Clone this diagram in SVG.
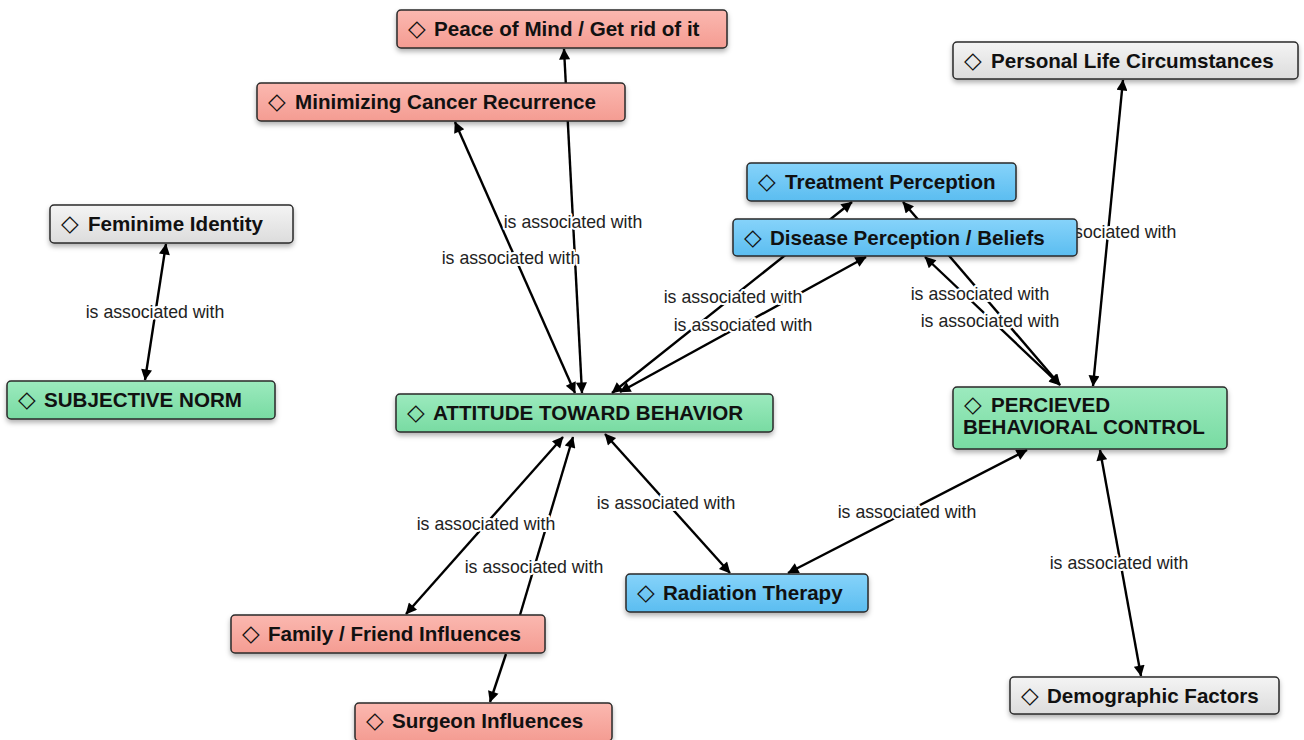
<svg xmlns="http://www.w3.org/2000/svg" width="1304" height="740" viewBox="0 0 1304 740">
<defs>
<linearGradient id="gRed" x1="0" y1="0" x2="0" y2="1"><stop offset="0" stop-color="#fbb8b0"/><stop offset="1" stop-color="#f49c92"/></linearGradient>
<linearGradient id="gBlue" x1="0" y1="0" x2="0" y2="1"><stop offset="0" stop-color="#86d3fa"/><stop offset="1" stop-color="#5bbdf0"/></linearGradient>
<linearGradient id="gGreen" x1="0" y1="0" x2="0" y2="1"><stop offset="0" stop-color="#9ceabe"/><stop offset="1" stop-color="#78dba2"/></linearGradient>
<linearGradient id="gGray" x1="0" y1="0" x2="0" y2="1"><stop offset="0" stop-color="#f4f4f4"/><stop offset="1" stop-color="#dcdcdc"/></linearGradient>
<filter id="sh" x="-10%" y="-30%" width="120%" height="170%"><feDropShadow dx="0" dy="3" stdDeviation="2.5" flood-color="#000" flood-opacity="0.3"/></filter>
<marker id="ah" viewBox="0 0 10 10" refX="9.5" refY="5" markerWidth="15" markerHeight="11" markerUnits="userSpaceOnUse" orient="auto-start-reverse"><path d="M0,0 L10,5 L0,10 z" fill="#000"/></marker>
</defs>
<style>
.c line{stroke:#000;stroke-width:2.4}
.both{marker-start:url(#ah);marker-end:url(#ah)}
.end{marker-end:url(#ah)}
.lbl{font-family:"Liberation Sans",Arial,sans-serif;font-size:17.7px;fill:#222;text-anchor:middle;stroke:#fff;stroke-width:4px;paint-order:stroke;stroke-linejoin:round}
.n rect{stroke:#2a2a2a;stroke-width:1.5;filter:url(#sh)}
.n text{font-family:"Liberation Sans",Arial,"DejaVu Sans",sans-serif;font-size:20.6px;font-weight:bold;fill:#111}
.red rect{fill:url(#gRed)}
.blue rect{fill:url(#gBlue)}
.green rect{fill:url(#gGreen)}
.gray rect{fill:url(#gGray)}
.d{font-family:"DejaVu Sans",sans-serif;font-weight:normal;font-size:23px}
</style>
<rect width="1304" height="740" fill="#fff"/>
<g id="connectors" class="c">
<line class="both" x1="582" y1="393" x2="564" y2="49"/>
<line class="both" x1="575" y1="393" x2="455" y2="122"/>
<line class="both" x1="166" y1="244" x2="145" y2="380"/>
<line class="both" x1="1093" y1="386" x2="1123" y2="80"/>
<line class="both" x1="1100" y1="450" x2="1141" y2="676"/>
<line class="both" x1="788" y1="573" x2="1027" y2="450"/>
<line class="both" x1="605" y1="434" x2="730" y2="573"/>
<line class="both" x1="406" y1="614" x2="563" y2="437"/>
<line class="end" x1="520" y1="615" x2="573" y2="437"/>
<line class="end" x1="506" y1="654" x2="490" y2="702"/>
<line class="both" x1="612" y1="393" x2="852" y2="202"/>
<line class="both" x1="620" y1="392" x2="866" y2="257"/>
<line class="both" x1="1060" y1="385" x2="925" y2="257"/>
<line class="both" x1="1060" y1="385" x2="903" y2="202"/>
<text class="lbl" x="573" y="228">is associated with</text>
<text class="lbl" x="511" y="264">is associated with</text>
<text class="lbl" x="155" y="318">is associated with</text>
<text class="lbl" x="1107" y="238">is associated with</text>
<text class="lbl" x="733" y="303">is associated with</text>
<text class="lbl" x="743" y="331">is associated with</text>
<text class="lbl" x="980" y="300">is associated with</text>
<text class="lbl" x="990" y="327">is associated with</text>
<text class="lbl" x="666" y="509">is associated with</text>
<text class="lbl" x="907" y="518">is associated with</text>
<text class="lbl" x="486" y="530">is associated with</text>
<text class="lbl" x="534" y="573">is associated with</text>
<text class="lbl" x="1119" y="569">is associated with</text>
</g>
<g id="peace" class="n red"><rect x="397" y="10" width="330" height="38" rx="4"/><text x="408" y="36"><tspan class="d">◇</tspan><tspan x="434">Peace of Mind / Get rid of it</tspan></text></g>
<g id="minimizing" class="n red"><rect x="257" y="83" width="368" height="38" rx="4"/><text x="268" y="109"><tspan class="d">◇</tspan><tspan x="295">Minimizing Cancer Recurrence</tspan></text></g>
<g id="treatment" class="n blue"><rect x="747" y="163" width="269" height="38" rx="4"/><text x="758" y="189"><tspan class="d">◇</tspan><tspan x="785">Treatment Perception</tspan></text></g>
<g id="disease" class="n blue"><rect x="733" y="219" width="344" height="37" rx="4"/><text x="744" y="245"><tspan class="d">◇</tspan><tspan x="770">Disease Perception / Beliefs</tspan></text></g>
<g id="feminime" class="n gray"><rect x="50" y="205" width="243" height="38" rx="4"/><text x="61" y="231"><tspan class="d">◇</tspan><tspan x="88">Feminime Identity</tspan></text></g>
<g id="subjective" class="n green"><rect x="7" y="381" width="268" height="38" rx="4"/><text x="18" y="407"><tspan class="d">◇</tspan><tspan x="44">SUBJECTIVE NORM</tspan></text></g>
<g id="attitude" class="n green"><rect x="396" y="394" width="377" height="38" rx="4"/><text x="407" y="420"><tspan class="d">◇</tspan><tspan x="433">ATTITUDE TOWARD BEHAVIOR</tspan></text></g>
<g id="percieved" class="n green"><rect x="953" y="387" width="274" height="62" rx="4"/><text x="964" y="412"><tspan class="d">◇</tspan><tspan x="991">PERCIEVED</tspan><tspan x="963" y="434">BEHAVIORAL CONTROL</tspan></text></g>
<g id="personal" class="n gray"><rect x="953" y="42" width="345" height="37" rx="4"/><text x="964" y="68"><tspan class="d">◇</tspan><tspan x="991">Personal Life Circumstances</tspan></text></g>
<g id="radiation" class="n blue"><rect x="626" y="574" width="242" height="38" rx="4"/><text x="637" y="600"><tspan class="d">◇</tspan><tspan x="663">Radiation Therapy</tspan></text></g>
<g id="family" class="n red"><rect x="231" y="615" width="314" height="38" rx="4"/><text x="242" y="641"><tspan class="d">◇</tspan><tspan x="268">Family / Friend Influences</tspan></text></g>
<g id="surgeon" class="n red"><rect x="355" y="703" width="257" height="38" rx="4"/><text x="366" y="728"><tspan class="d">◇</tspan><tspan x="392">Surgeon Influences</tspan></text></g>
<g id="demographic" class="n gray"><rect x="1010" y="677" width="269" height="37" rx="4"/><text x="1021" y="703"><tspan class="d">◇</tspan><tspan x="1047">Demographic Factors</tspan></text></g>
</svg>
